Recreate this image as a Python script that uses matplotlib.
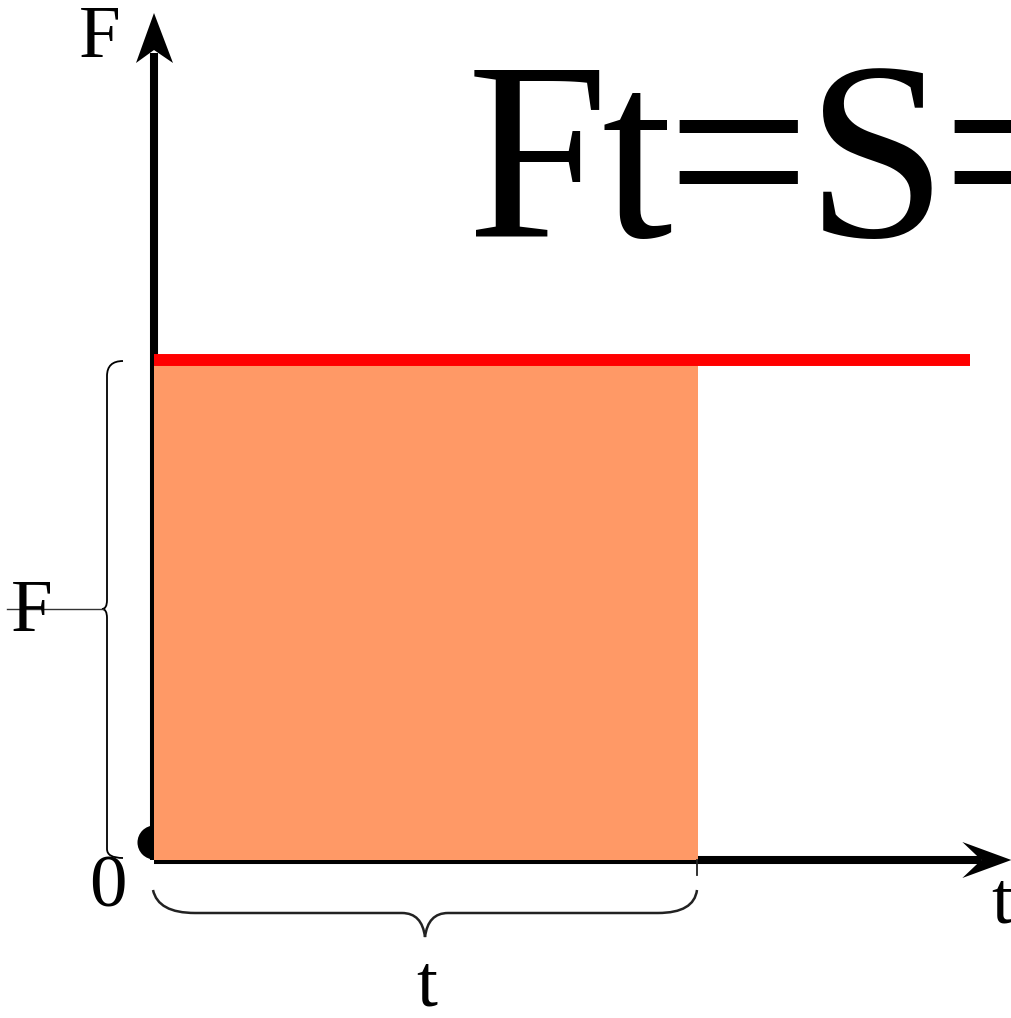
import matplotlib.pyplot as plt
from matplotlib.patches import Rectangle, Polygon, PathPatch
from matplotlib.path import Path

# dane wykresu
force = 1.0            # wartość stałej siły F
t_end = 1.0            # czas działania siły (zacieniony prostokąt)
t_line = [0.0, 1.5]    # czerwona linia F(t)
F_line = [force, force]
t_axis_max = 1.576     # koniec osi t
F_axis_max = 1.694     # koniec osi F
formula = ["F", "t", "=", "S", "="]
axis_labels = ["F", "t", "0"]

W, H = 1012, 1018
fig = plt.figure(figsize=(W / 100, H / 100), dpi=100)
ax = fig.add_axes([0, 0, 1, 1])

# piksele -> jednostki danych
ox, oy = 154, 860
sx, sy = 544, 500
ax.set_xlim(-ox / sx, (W - ox) / sx)
ax.set_ylim(-(H - oy) / sy, oy / sy)
ax.axis('off')


def P(x, y):
    # punkt w pikselach obrazu -> dane
    return ((x - ox) / sx, (oy - y) / sy)


serif = 'Liberation Serif'

# osie
ax.plot([0, 0], [0, F_axis_max - 40 / sy], color='black', lw=5.8,
        solid_capstyle='butt', zorder=2)
ax.plot([0, t_axis_max - 30 / sx], [0, 0], color='black', lw=5.8,
        solid_capstyle='butt', zorder=2)
ax.add_patch(Polygon([(0, F_axis_max),
                      (-18 / sx, F_axis_max - 50 / sy),
                      (0, F_axis_max - 37 / sy),
                      (19 / sx, F_axis_max - 50 / sy)],
                     closed=True, color='black', lw=0, zorder=2))
ax.add_patch(Polygon([(t_axis_max, 0),
                      (t_axis_max - 49 / sx, 18 / sy),
                      (t_axis_max - 30 / sx, 0),
                      (t_axis_max - 49 / sx, -18 / sy)],
                     closed=True, color='black', lw=0, zorder=2))

# punkt w początku układu
ax.plot([0], [18 / sy], 'o', color='black', ms=24.5, mew=0, zorder=1)

# pole pod wykresem
ax.add_patch(Rectangle((0, 0), t_end, force, facecolor='#FF9966',
                       edgecolor='none', zorder=3))

# wykres F(t)
ax.plot(t_line, F_line, color='#FF0000', lw=8.6, solid_capstyle='butt',
        zorder=4)

# klamra pionowa
C3 = Path.CURVE3
verts = [P(123, 361), P(107, 361), P(107, 376),
         P(107, 600), P(107, 609), P(102, 609),
         P(107, 609), P(107, 618),
         P(107, 849), P(107, 858), P(123, 858)]
codes = [Path.MOVETO, C3, C3, Path.LINETO, C3, C3, C3, C3,
         Path.LINETO, C3, C3]
ax.add_patch(PathPatch(Path(verts, codes), fill=False, color='black',
                       lw=1.3, zorder=5))
ax.plot(*zip(P(7, 609), P(103, 609)), color='#333333', lw=1.0, zorder=5)

# klamra pozioma
verts = [P(153, 890), P(158, 913), P(195, 913),
         P(402, 913), P(422, 913), P(425, 937),
         P(428, 913), P(448, 913),
         P(658, 913), P(694, 913), P(697, 890)]
ax.add_patch(PathPatch(Path(verts, codes), fill=False, color='#222222',
                       lw=1.8, zorder=5))
ax.plot(*zip(P(697, 860), P(697, 875)), color='#222222', lw=1.3, zorder=5)

# podpisy
fs = 54
ax.text(*P(100, 39), axis_labels[0], family=serif, fontsize=fs,
        ha='center', va='center')
ax.text(*P(32, 613), axis_labels[0], family=serif, fontsize=fs,
        ha='center', va='center', zorder=6)
ax.text(*P(108, 889), axis_labels[2], family=serif, fontsize=fs,
        ha='center', va='center')
ax.text(*P(1002, 905), axis_labels[1], family=serif, fontsize=fs,
        ha='center', va='center')
ax.text(*P(427, 988), axis_labels[1], family=serif, fontsize=fs,
        ha='center', va='center')

# wzór (znaki ustawione ciasno jak w oryginale)
x_chars = [467, 602, 666, 806, 941]
for ch, xc in zip(formula, x_chars):
    ax.text(*P(xc, 237), ch, family=serif, fontsize=183,
            ha='left', va='baseline')

fig.savefig('out.png', dpi=100)
